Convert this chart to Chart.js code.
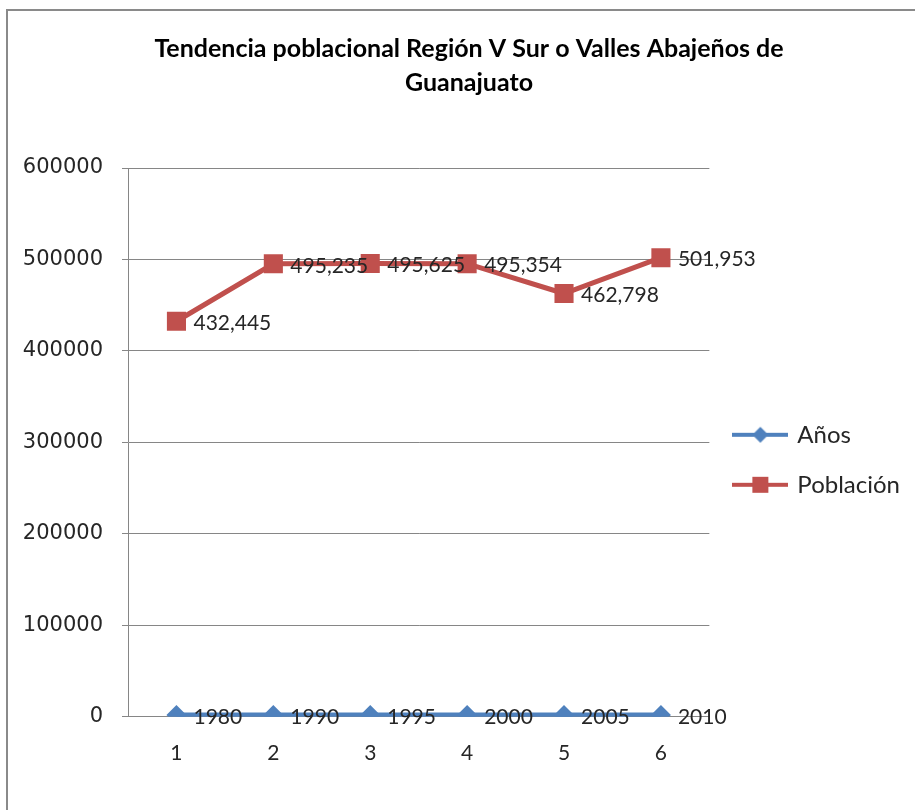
<!DOCTYPE html>
<html>
<head>
<meta charset="utf-8">
<script src="https://cdn.jsdelivr.net/npm/chart.js@4"></script>
<style>
  html, body { margin: 0; padding: 0; background: #fff; }
  #wrap { position: relative; width: 915px; height: 810px; overflow: hidden; background: #fff; }
  #frame { position: absolute; left: 6px; top: 9px; width: 1000px; height: 1000px; border: 2px solid #8a8a8a; box-sizing: border-box; }
  #c { position: absolute; left: 0; top: 0; }
</style>
</head>
<body>
<div id="wrap">
  <div id="frame"></div>
  <canvas id="c" width="915" height="810"></canvas>
</div>
<script>
// ---- Data ----
const categories = ['1', '2', '3', '4', '5', '6'];
const anios = [1980, 1990, 1995, 2000, 2005, 2010];
const poblacion = [432445, 495235, 495625, 495354, 462798, 501953];
const seriesNames = ['Años', 'Población'];
const titleLines = ['Tendencia poblacional Región V Sur o Valles Abajeños de', 'Guanajuato'];
const yTicks = [0, 100000, 200000, 300000, 400000, 500000, 600000];

const BLUE = '#4F81BD';
const RED = '#C0504D';

function legendIcon(color, shape) {
  const cv = document.createElement('canvas');
  cv.width = 56; cv.height = 22;
  const ctx = cv.getContext('2d');
  ctx.strokeStyle = color;
  ctx.lineWidth = 4;
  ctx.beginPath();
  ctx.moveTo(0, 11); ctx.lineTo(56, 11);
  ctx.stroke();
  ctx.fillStyle = color;
  ctx.beginPath();
  if (shape === 'diamond') {
    ctx.moveTo(28 - 8, 11); ctx.lineTo(28, 3); ctx.lineTo(28 + 8, 11); ctx.lineTo(28, 19);
    ctx.closePath();
  } else {
    ctx.rect(28 - 8, 11 - 8, 16, 16);
  }
  ctx.fill();
  return cv;
}
const icons = [legendIcon(BLUE, 'diamond'), legendIcon(RED, 'square')];

const fmt = (v, i) => i === 1 ? v.toLocaleString('en-US') : String(v);

const dataLabels = {
  id: 'dataLabels',
  afterDatasetsDraw(chart) {
    const ctx = chart.ctx;
    ctx.save();
    ctx.font = '21px Lato';
    ctx.fillStyle = '#262626';
    ctx.textAlign = 'left';
    ctx.textBaseline = 'middle';
    chart.data.datasets.forEach((ds, di) => {
      const meta = chart.getDatasetMeta(di);
      meta.data.forEach((pt, i) => {
        ctx.fillText(fmt(ds.data[i], di), pt.x + 17, pt.y + 2);
      });
    });
    ctx.restore();
  }
};

// widen the y-axis box to the canvas edge after layout so its labels are not clipped
const yAxisBox = {
  id: 'yAxisBox',
  afterLayout(chart) { chart.scales.y.left = 0; }
};

new Chart(document.getElementById('c'), {
  type: 'line',
  data: {
    labels: categories,
    datasets: [
      {
        label: seriesNames[0],
        data: anios,
        borderColor: BLUE,
        backgroundColor: BLUE,
        borderWidth: 5,
        pointStyle: 'rectRot',
        pointRadius: 10,
        pointBorderWidth: 0,
        tension: 0
      },
      {
        label: seriesNames[1],
        data: poblacion,
        borderColor: RED,
        backgroundColor: RED,
        borderWidth: 5,
        pointStyle: 'rect',
        pointRadius: 13.5,
        pointBorderWidth: 0,
        tension: 0
      }
    ]
  },
  options: {
    responsive: false,
    devicePixelRatio: 1,
    animation: false,
    events: [],
    layout: { padding: { left: 28, right: 5, top: 0, bottom: 20 } },
    plugins: {
      title: {
        display: true,
        text: titleLines,
        color: '#000',
        font: { family: 'Lato', size: 25, weight: 'bold', lineHeight: 34 / 25 },
        padding: { top: 32, bottom: 68 }
      },
      legend: {
        display: true,
        position: 'right',
        align: 'center',
        fullSize: false,
        title: { display: true, text: ' ', padding: 0, font: { size: 29 } },
        labels: {
          usePointStyle: true,
          pointStyleWidth: 50,
          padding: 26,
          color: '#262626',
          font: { family: 'Lato', size: 24 },
          generateLabels(chart) {
            const items = Chart.defaults.plugins.legend.labels.generateLabels(chart);
            items.forEach((it, i) => { it.pointStyle = icons[i]; });
            return items;
          }
        }
      },
      tooltip: { enabled: false }
    },
    scales: {
      x: {
        type: 'category',
        offset: true,
        grid: { display: false, drawTicks: false },
        border: { display: true, color: '#868686', width: 1 },
        ticks: { color: '#262626', font: { family: 'Lato', size: 21 }, padding: 24, maxRotation: 0 }
      },
      y: {
        min: 0,
        max: 600000,
        afterBuildTicks(scale) { scale.ticks = yTicks.map(v => ({ value: v })); },
        afterFit(scale) { scale.width = 100; },
        grid: { color: '#868686', lineWidth: 1, drawTicks: true, tickLength: 6 },
        border: { display: true, color: '#868686', width: 1 },
        ticks: {
          color: '#262626',
          font: { family: 'DejaVu Sans', size: 21 },
          padding: 19,
          callback: v => String(v)
        }
      }
    }
  },
  plugins: [dataLabels, yAxisBox]
});
</script>
</body>
</html>
